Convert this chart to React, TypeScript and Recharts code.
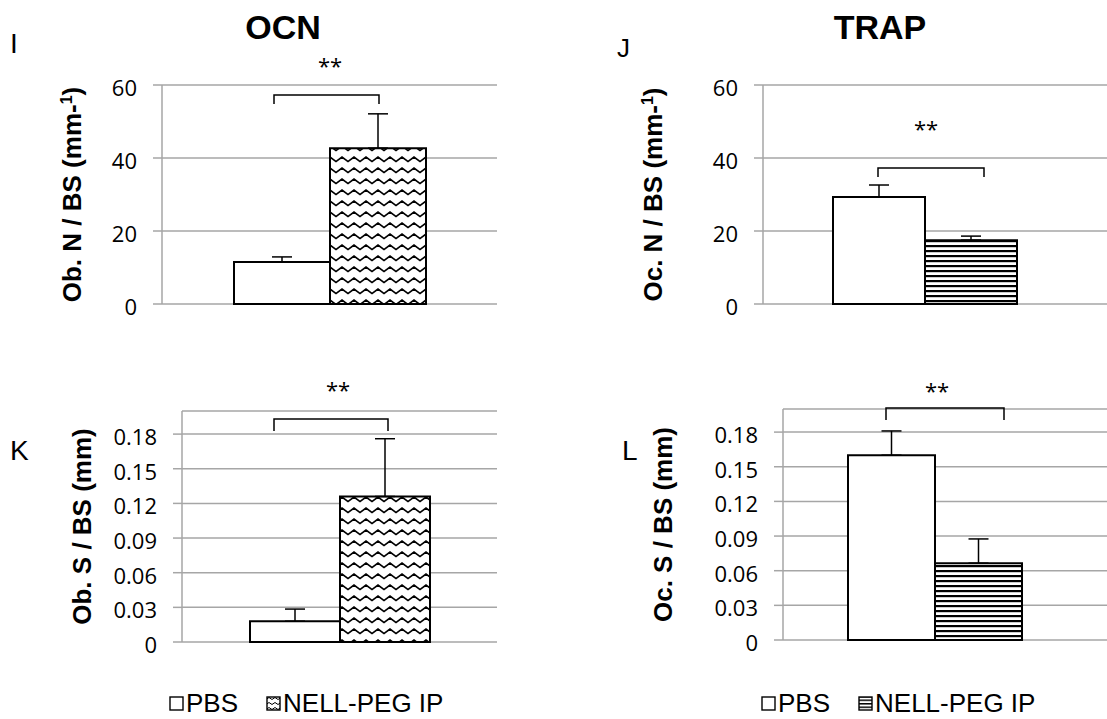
import { Bar, BarChart, CartesianGrid, ErrorBar, Legend, XAxis, YAxis } from 'recharts';

const groups = ['PBS', 'NELL-PEG IP'];

// I - OCN, Ob. N / BS
const obN = [11.5, 42.7];
const obNErr = [1.4, 9.4];
// J - TRAP, Oc. N / BS
const ocN = [29.3, 17.5];
const ocNErr = [3.3, 1.1];
// K - OCN, Ob. S / BS
const obS = [0.018, 0.126];
const obSErr = [0.0105, 0.05];
// L - TRAP, Oc. S / BS
const ocS = [0.16, 0.0665];
const ocSErr = [0.021, 0.021];

const countTicks = [0, 20, 40, 60];
const surfTicks = [0, 0.03, 0.06, 0.09, 0.12, 0.15, 0.18];

const toRows = (vals: number[], errs: number[]) => [
  { name: '', pbs: vals[0], nell: vals[1], pbsErr: [0, errs[0]], nellErr: [0, errs[1]] },
];

const GRID = '#a6a6a6';
const ARIAL = '"Liberation Sans", Arial, sans-serif';
const TICKFONT = '"Open Sans", sans-serif';

const Tick = (props: any) => (
  <text x={props.x} y={props.y} dy={11} textAnchor="end" fontFamily={TICKFONT} fontSize={22} fill="#000">
    {props.payload.value}
  </text>
);

const AxisTitle = ({ x, y, text, sup }: any) => (
  <text x={x} y={y} transform={`rotate(-90 ${x} ${y})`} textAnchor="middle" fontFamily={ARIAL} fontWeight="bold" fontSize={26} fill="#000">
    {text}
    {sup && <tspan dy={-9} fontSize={16}>{sup}</tspan>}
    {sup && <tspan dy={9}>)</tspan>}
  </text>
);

// legend keeps the series order of the groups list
const LegendBox = ({ icon }: any) => (
  <div style={{ display: 'flex', alignItems: 'center', fontFamily: ARIAL, fontSize: 26, color: '#000', whiteSpace: 'nowrap' }}>
    {groups.map((g, i) => (
      <div key={g} style={{ display: 'flex', alignItems: 'center', marginLeft: i ? 28 : 0 }}>
        <svg width={15} height={15}>
          <rect x={1} y={1} width={13} height={13} fill={i ? `url(#${icon})` : '#fff'} stroke="#000" strokeWidth={1.4} />
        </svg>
        <span style={{ marginLeft: 2 }}>{g}</span>
      </div>
    ))}
  </div>
);

function Panel(p: any) {
  return (
    <div style={{ position: 'absolute', left: p.left, top: p.top }}>
      <BarChart width={p.width} height={p.height} data={p.data} margin={p.margin} barGap={0} barSize={p.barSize}>
        <CartesianGrid vertical={false} stroke={GRID} strokeWidth={1.5} />
        <XAxis dataKey="name" hide padding={{ left: 0, right: p.padRight }} />
        <YAxis
          width={p.axisW}
          domain={p.domain}
          ticks={p.ticks}
          interval={0}
          tickSize={9}
          tickMargin={16}
          axisLine={{ stroke: GRID, strokeWidth: 1.5 }}
          tickLine={{ stroke: GRID, strokeWidth: 1.5 }}
          tick={<Tick />}
          label={<AxisTitle x={p.labelX} y={p.labelY} text={p.yLabel} sup={p.sup} />}
        />
        <Bar dataKey="pbs" name={groups[0]} fill="#fff" stroke="#000" strokeWidth={2} isAnimationActive={false}>
          <ErrorBar dataKey="pbsErr" width={10} stroke="#000" strokeWidth={1.5} direction="y" />
        </Bar>
        <Bar dataKey="nell" name={groups[1]} fill={`url(#${p.pattern})`} stroke="#000" strokeWidth={2} isAnimationActive={false}>
          <ErrorBar dataKey="nellErr" width={10} stroke="#000" strokeWidth={1.5} direction="y" />
        </Bar>
        {p.legendAt && (
          <Legend
            verticalAlign="middle"
            align="center"
            content={<LegendBox icon={p.pattern + 'Icon'} />}
            wrapperStyle={{ left: p.legendAt[0], top: p.legendAt[1], width: 'auto' }}
          />
        )}
      </BarChart>
    </div>
  );
}

function Bracket({ x1, x2, y, drop }: any) {
  return <path d={`M${x1} ${y + drop} V${y} H${x2} V${y + drop}`} fill="none" stroke="#000" strokeWidth={1.5} />;
}

export default function App() {
  return (
    <div style={{ position: 'absolute', left: 0, top: 0, width: 1107, height: 719, background: '#fff', overflow: 'hidden' }}>
      <svg width={0} height={0} style={{ position: 'absolute' }}>
        <defs>
          <pattern id="wave" patternUnits="userSpaceOnUse" width={12} height={11}>
            <rect width={12} height={11} fill="#fff" />
            <path d="M-6 3 L0 7.5 L6 3 L12 7.5 L18 3" fill="none" stroke="#000" strokeWidth={1.7} />
          </pattern>
          <pattern id="stripes" patternUnits="userSpaceOnUse" width={8} height={5}>
            <rect width={8} height={5} fill="#fff" />
            <rect width={8} height={2.2} fill="#000" />
          </pattern>
          <pattern id="waveIcon" patternUnits="userSpaceOnUse" width={6} height={5}>
            <rect width={6} height={5} fill="#fff" />
            <path d="M-3 1.5 L0 3.5 L3 1.5 L6 3.5 L9 1.5" fill="none" stroke="#000" strokeWidth={1} />
          </pattern>
          <pattern id="stripesIcon" patternUnits="userSpaceOnUse" width={4} height={3.5}>
            <rect width={4} height={3.5} fill="#fff" />
            <rect width={4} height={1.5} fill="#000" />
          </pattern>
        </defs>
      </svg>

      <Panel left={0} top={0} width={560} height={340} margin={{ top: 85, right: 63, bottom: 36, left: 0 }}
        axisW={162} barSize={96} padRight={0} data={toRows(obN, obNErr)} domain={[0, 60]} ticks={countTicks}
        yLabel="Ob. N / BS (mm-" sup="1" labelX={100} labelY={204} pattern="wave" />
      <Panel left={560} top={0} width={547} height={340} margin={{ top: 85, right: 0, bottom: 36, left: 0 }}
        axisW={203} barSize={92} padRight={20} data={toRows(ocN, ocNErr)} domain={[0, 60]} ticks={countTicks}
        yLabel="Oc. N / BS (mm-" sup="1" labelX={140} labelY={204} pattern="stripes" />
      <Panel left={0} top={340} width={560} height={379} margin={{ top: 71, right: 63, bottom: 77, left: 0 }}
        axisW={182} barSize={90} padRight={0} data={toRows(obS, obSErr)} domain={[0, 0.2]} ticks={surfTicks}
        yLabel="Ob. S / BS (mm)" labelX={100} labelY={186} pattern="wave" legendAt={[169, 348]} />
      <Panel left={560} top={340} width={547} height={379} margin={{ top: 69, right: 0, bottom: 79, left: 0 }}
        axisW={223} barSize={87} padRight={21} data={toRows(ocS, ocSErr)} domain={[0, 0.2]} ticks={surfTicks}
        yLabel="Oc. S / BS (mm)" labelX={140} labelY={185} pattern="stripes" legendAt={[201, 348]} />

      <svg width={1107} height={719} style={{ position: 'absolute', left: 0, top: 0, pointerEvents: 'none' }}>
        <g fontFamily={ARIAL} fill="#000">
          <text x={283} y={39} textAnchor="middle" fontSize={34} fontWeight="bold">OCN</text>
          <text x={880} y={39} textAnchor="middle" fontSize={34} fontWeight="bold">TRAP</text>
          <text x={10} y={53} fontSize={28}>I</text>
          <text x={617} y={57} fontSize={26}>J</text>
          <text x={10} y={460} fontSize={28}>K</text>
          <text x={622} y={460} fontSize={28}>L</text>
        </g>
        <g fontFamily={TICKFONT} fontSize={22} fill="#000" textAnchor="middle">
          <text x={330} y={74}>**</text>
          <text x={926} y={137}>**</text>
          <text x={338} y={398}>**</text>
          <text x={937} y={399}>**</text>
        </g>
        <Bracket x1={274} x2={379} y={95} drop={9} />
        <Bracket x1={878} x2={984} y={168} drop={9} />
        <Bracket x1={274} x2={388} y={419} drop={12} />
        <Bracket x1={886} x2={1004} y={408} drop={12} />
      </svg>
    </div>
  );
}
